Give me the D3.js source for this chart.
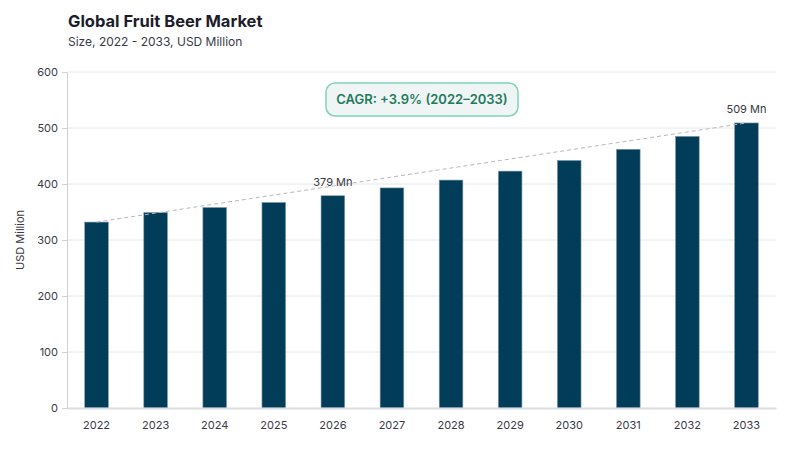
<!DOCTYPE html>
<html>

<head>
  <meta charset="utf-8">
  <title>Global Fruit Beer Market</title>
  <script src="https://cdn.jsdelivr.net/npm/d3@7"></script>
  <style>
    body { margin: 0; background: #fff; font-family: Inter, "Noto Sans", sans-serif; }
  </style>
</head>

<body>
  <script type="text/javascript">
    // data
    var years = ["2022", "2023", "2024", "2025", "2026", "2027", "2028", "2029", "2030", "2031", "2032", "2033"];
    var values = [332, 349, 358, 367, 379, 393, 407, 423, 442, 462, 485, 509];
    var yTicks = [0, 100, 200, 300, 400, 500, 600];
    var labelled = ["2026", "2033"];
    var cagrText = "CAGR: +3.9% (2022\u20132033)";

    var w = 800, h = 450;
    var margin = { top: 72, right: 24, bottom: 42, left: 67 };

    var svg = d3.select("body")
      .append("svg")
      .attr("width", w)
      .attr("height", h);

    var x = d3.scaleBand()
      .domain(years)
      .range([margin.left, w - margin.right])
      .paddingInner(0.6)
      .paddingOuter(0.3);

    var y = d3.scaleLinear()
      .domain([0, 600])
      .range([h - margin.bottom, margin.top]);

    // title
    svg.append("text")
      .attr("x", 68).attr("y", 27)
      .attr("font-size", 16.5).attr("font-weight", 700)
      .attr("fill", "#1d1d2b")
      .text("Global Fruit Beer Market");
    svg.append("text")
      .attr("x", 68).attr("y", 46)
      .attr("font-size", 12).attr("fill", "#3a3a46")
      .text("Size, 2022 - 2033, USD Million");

    // gridlines
    svg.append("g")
      .selectAll("line")
      .data(yTicks.slice(1))
      .enter().append("line")
      .attr("x1", margin.left).attr("x2", w - margin.right)
      .attr("y1", d => y(d)).attr("y2", d => y(d))
      .attr("stroke", "#e8e8ec");

    // y axis
    var yAxis = svg.append("g")
      .attr("transform", "translate(" + margin.left + ",0)")
      .call(d3.axisLeft(y).tickValues(yTicks).tickSize(5).tickPadding(4));
    yAxis.select(".domain").attr("stroke", "#d0d0d8");
    yAxis.selectAll(".tick line").attr("stroke", "#d0d0d8");
    yAxis.selectAll("text").attr("font-size", 11).attr("fill", "#3a3a46").attr("font-family", "Inter, sans-serif");

    svg.append("text")
      .attr("transform", "translate(24," + ((margin.top + h - margin.bottom) / 2) + ") rotate(-90)")
      .attr("text-anchor", "middle")
      .attr("font-size", 11).attr("fill", "#3a3a46")
      .text("USD Million");

    // bars
    svg.append("g")
      .selectAll("rect")
      .data(values)
      .enter().append("rect")
      .attr("x", (d, i) => x(years[i]))
      .attr("y", d => y(d))
      .attr("width", x.bandwidth())
      .attr("height", d => y(0) - y(d))
      .attr("fill", "#013d59")
      .attr("stroke", "#7d98aa")
      .attr("stroke-width", 0.6);

    // x axis
    var xAxis = svg.append("g")
      .attr("transform", "translate(0," + y(0) + ")")
      .call(d3.axisBottom(x).tickSize(0).tickPadding(13));
    xAxis.select(".domain").attr("stroke", "#dcdce2").attr("stroke-width", 2);
    xAxis.selectAll("text").attr("font-size", 11).attr("fill", "#3a3a46").attr("font-family", "Inter, sans-serif");

    // trend line
    var first = 0, last = values.length - 1;
    svg.append("line")
      .attr("x1", x(years[first]) + x.bandwidth() / 2)
      .attr("y1", y(values[first]))
      .attr("x2", x(years[last]) + x.bandwidth() / 2)
      .attr("y2", y(values[last]))
      .attr("stroke", "#b8b8bc")
      .attr("stroke-width", 1)
      .attr("stroke-dasharray", "4,3");

    // value labels
    svg.append("g")
      .selectAll("text")
      .data(labelled)
      .enter().append("text")
      .attr("x", d => x(d) + x.bandwidth() / 2)
      .attr("y", d => y(values[years.indexOf(d)]) - 10)
      .attr("text-anchor", "middle")
      .attr("font-size", 11).attr("fill", "#3a3a46")
      .text(d => values[years.indexOf(d)] + " Mn");

    // CAGR badge
    var badge = svg.append("g");
    badge.append("rect")
      .attr("x", 326).attr("y", 83)
      .attr("width", 192).attr("height", 33)
      .attr("rx", 9)
      .attr("fill", "#eff5f4")
      .attr("stroke", "#7fd4b9")
      .attr("stroke-width", 1.5);
    badge.append("text")
      .attr("x", 422).attr("y", 104)
      .attr("text-anchor", "middle")
      .attr("font-size", 13).attr("font-weight", 600)
      .attr("fill", "#1f7a5c")
      .text(cagrText);
  </script>

</body>

</html>
